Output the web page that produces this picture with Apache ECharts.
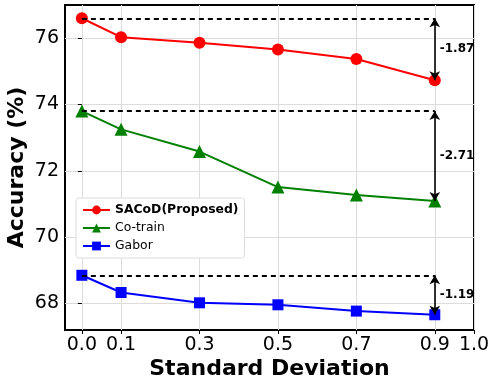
<!DOCTYPE html>
<html>
<head>
<meta charset="utf-8">
<script src="https://cdn.jsdelivr.net/npm/echarts@6/dist/echarts.min.js"></script>
<style>html,body{margin:0;padding:0;background:#fff}#main{width:491px;height:379px}</style>
</head>
<body>
<div id="main"></div>
<script>
// values
var stdDev = [0.0, 0.1, 0.3, 0.5, 0.7, 0.9];
var sacod = [76.60, 76.03, 75.86, 75.66, 75.37, 74.73];
var cotrain = [73.80, 73.25, 72.58, 71.51, 71.27, 71.09];
var gabor = [68.85, 68.33, 68.02, 67.96, 67.77, 67.66];
var xTicks = [0.0, 0.1, 0.3, 0.5, 0.7, 0.9, 1.0];
var yTicks = [68, 70, 72, 74, 76];

var chart = echarts.init(document.getElementById('main'), null, {renderer: 'canvas'});
var font = 'DejaVu Sans';

// dashed reference line + double arrow + drop label
function marks(vals) {
  var first = vals[0], last = vals[vals.length - 1];
  var xEnd = stdDev[stdDev.length - 1];
  return {
    markLine: {
      silent: true,
      animation: false,
      label: {show: false},
      data: [
        [{coord: [stdDev[0], first], symbol: 'none', lineStyle: {type: [5, 4], color: '#000', width: 1.8}},
         {coord: [xEnd, first], symbol: 'none'}],
        [{coord: [xEnd, first], symbol: 'arrow', symbolSize: [8, 9], lineStyle: {type: 'solid', color: '#000', width: 1.6}},
         {coord: [xEnd, last], symbol: 'arrow', symbolSize: [8, 9]}]
      ]
    },
    markPoint: {
      silent: true,
      symbol: 'circle',
      symbolSize: 0,
      data: [{coord: [xEnd, (first + last) / 2],
        label: {show: true, position: 'right', distance: 5, formatter: (last - first).toFixed(2),
          color: '#000', fontFamily: font, fontWeight: 'bold', fontSize: 12}}]
    }
  };
}

function line(name, vals, color, symbol, size) {
  var s = {
    name: name, type: 'line', z: 3,
    data: stdDev.map(function (x, i) { return [x, vals[i]]; }),
    symbol: symbol, symbolSize: size,
    itemStyle: {color: color},
    lineStyle: {color: color, width: 2},
    animation: false
  };
  var m = marks(vals);
  s.markLine = m.markLine;
  s.markPoint = m.markPoint;
  return s;
}

var option = {
  backgroundColor: '#fff',
  grid: {left: 65, right: 17, top: 5, bottom: 49, outerBoundsMode: 'none',
    show: true, borderColor: '#000', borderWidth: 2},
  legend: {
    orient: 'vertical', left: 76, top: 198,
    backgroundColor: '#fff', borderColor: '#dcdcdc', borderWidth: 1, borderRadius: 3,
    padding: [6, 6, 6, 6], itemGap: 6, itemWidth: 27, itemHeight: 11,
    textStyle: {fontFamily: font, fontSize: 12.4, color: '#000'},
    data: [
      {name: 'SACoD(Proposed)', textStyle: {fontWeight: 'bold'}},
      {name: 'Co-train'},
      {name: 'Gabor'}
    ]
  },
  xAxis: {
    type: 'value', min: -0.043, max: 1.0,
    name: 'Standard Deviation', nameLocation: 'middle', nameGap: 28, nameMoveOverlap: false,
    nameTextStyle: {fontFamily: font, fontWeight: 'bold', fontSize: 22, color: '#000'},
    axisLine: {show: false},
    axisTick: {show: true, customValues: xTicks, length: 4, lineStyle: {color: '#000'}},
    axisLabel: {customValues: xTicks, fontFamily: font, fontSize: 19, color: '#000', margin: 6,
      formatter: function (v) { return v.toFixed(1); }},
    splitLine: {show: true, lineStyle: {color: '#dcdcdc', width: 1}}
  },
  yAxis: {
    type: 'value', min: 67.2, max: 77.0,
    name: 'Accuracy (%)', nameLocation: 'middle', nameGap: 37, nameMoveOverlap: false,
    nameTextStyle: {fontFamily: font, fontWeight: 'bold', fontSize: 22, color: '#000'},
    axisLine: {show: false},
    axisTick: {show: true, customValues: yTicks, length: 4, lineStyle: {color: '#000'}},
    axisLabel: {customValues: yTicks, fontFamily: font, fontSize: 19, color: '#000', margin: 6},
    splitLine: {show: true, lineStyle: {color: '#dcdcdc', width: 1}}
  },
  series: [
    line('SACoD(Proposed)', sacod, '#ff0000', 'circle', 12),
    line('Co-train', cotrain, '#008000', 'triangle', 13),
    line('Gabor', gabor, '#0000ff', 'rect', 11)
  ]
};
chart.setOption(option);
</script>
</body>
</html>
